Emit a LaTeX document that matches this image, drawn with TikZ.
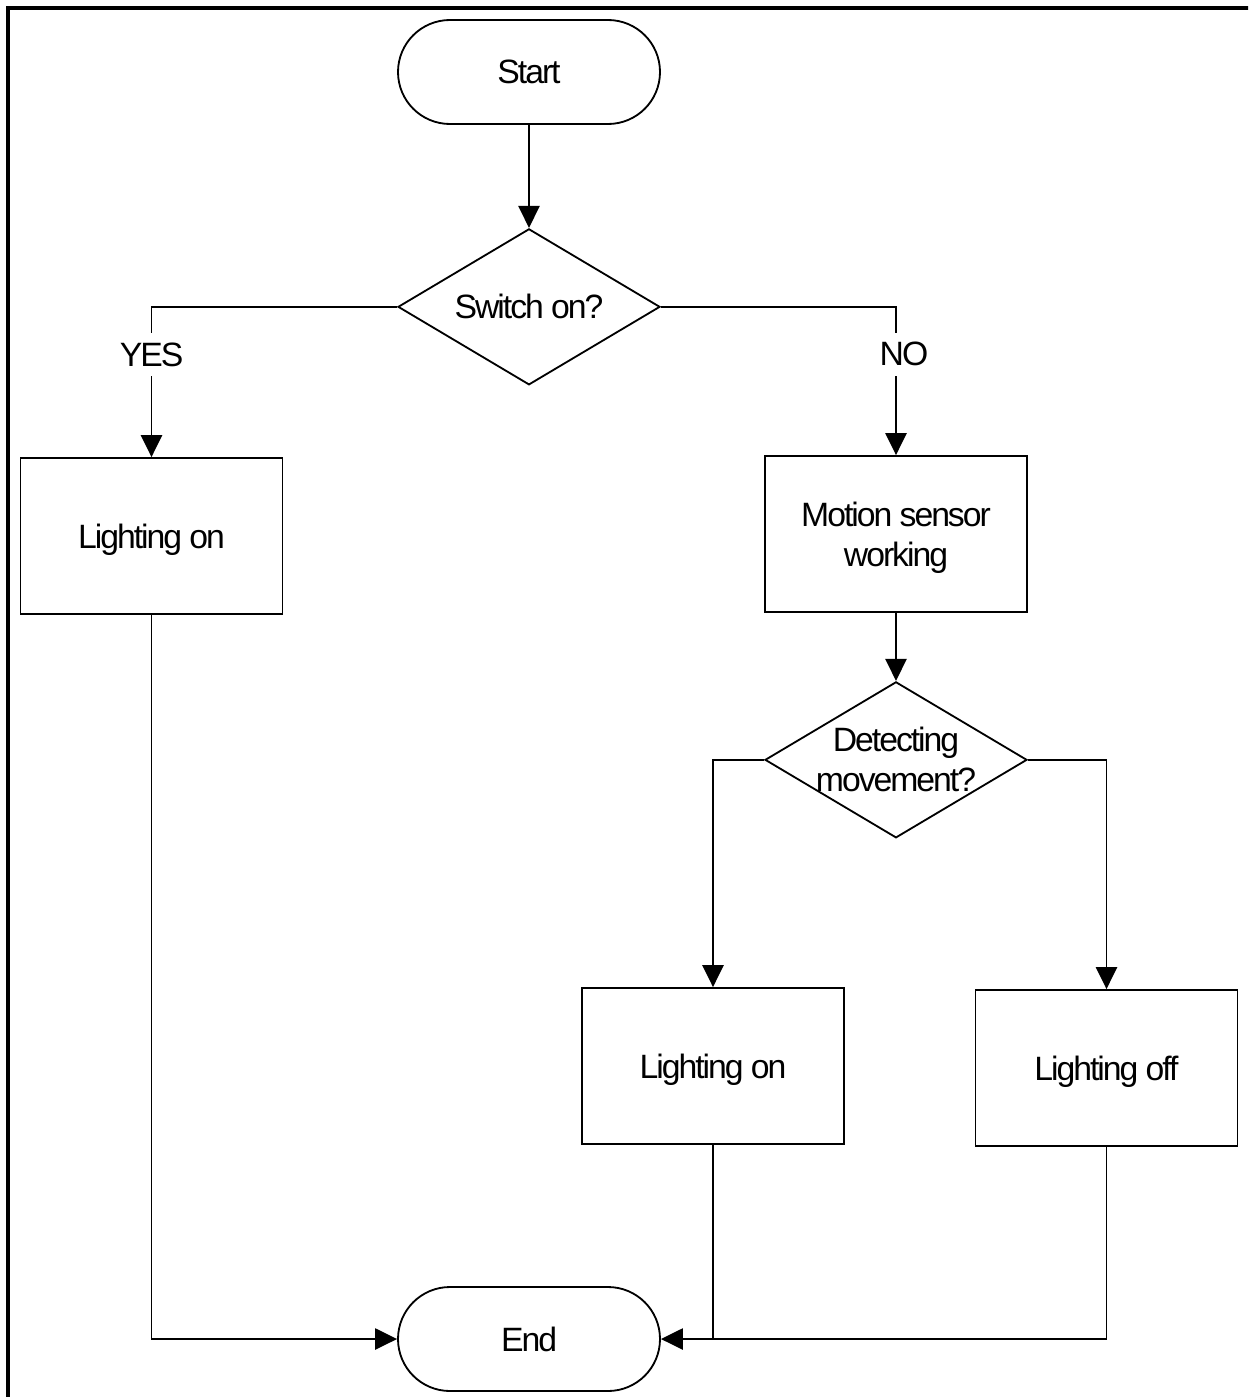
\documentclass[tikz,border=0pt]{standalone}
\usepackage{fontspec}
\setmainfont[LetterSpace=-6]{Liberation Sans}
\usepackage{tikz}
\usetikzlibrary{positioning,arrows.meta,shapes.geometric}
\newcommand{\flowfont}{\fontsize{24}{28.5}\selectfont}
\tikzset{
  terminal/.style={rectangle, draw, rounded corners=1.3cm, minimum width=6.55cm,
                   minimum height=2.6cm, line width=1.3pt, font=\flowfont},
  process/.style={rectangle, draw, minimum width=6.55cm, minimum height=3.9cm,
                  text depth=0pt, line width=1.3pt, font=\flowfont, align=center},
  decision/.style={diamond, draw, shape aspect=1.68, minimum width=6.55cm, minimum height=3.9cm,
                   inner sep=-4pt, line width=1.3pt, font=\flowfont, align=center},
  branch/.style={fill=white, inner sep=2.4mm, font=\flowfont},
  arr/.style={-{Triangle[length=5.5mm,width=5.3mm]}, line width=1.3pt},
  link/.style={line width=1.3pt},
}

\begin{document}
\begin{tikzpicture}[node distance=2.575cm]
    \useasboundingbox (0,0) rectangle (31.2,-34.925);
    \clip (0,0) rectangle (31.2,-34.925);
    \draw[line width=2.4pt] (0.2,-0.2) rectangle (32,-36);
    \node[terminal] (start) at (13.225,-1.8) {Start};
    \node[decision, below=of start] (switch) {Switch on?};
    \node[process] (lighton) at (3.7875,-13.4) {Lighting on};
    \node[process] (sensor) at (22.4,-13.35) {Motion sensor\\working};
    \node[decision, below=1.7cm of sensor] (detect) {Detecting\\movement?};
    \node[process] (movon) at (17.825,-26.65) {Lighting on};
    \node[process] (movoff) at (27.6625,-26.7) {Lighting off};
    \node[terminal] (end) at (13.225,-33.475) {End};
    \draw[arr] (start.south) -- (switch.north);
    \draw[arr] (switch.west) -| node[branch, pos=0.66] {YES} (lighton.north);
    \draw[arr] (switch.east) -| node[branch, pos=0.66, xshift=2mm] {NO} (sensor.north);
    \draw[arr] (sensor.south) -- (detect.north);
    \draw[arr] (detect.west) -| (movon.north);
    \draw[arr] (detect.east) -| (movoff.north);
    \draw[arr] (lighton.south) |- (end.west);
    \draw[arr] (movoff.south) |- (end.east);
    \draw[link] (movon.south) -- (movon.south |- end.east);
  \end{tikzpicture}
\end{document}
